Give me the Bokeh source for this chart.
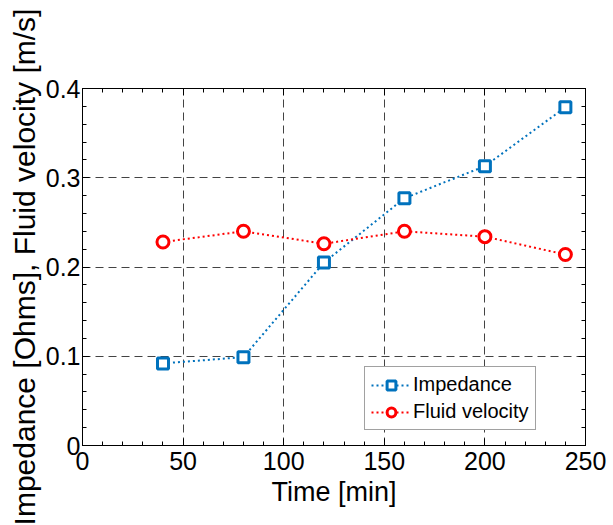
from bokeh.plotting import figure
from bokeh.models import LinearAxis, Range1d, SingleIntervalTicker, Legend
from bokeh.embed import file_html
from bokeh.resources import INLINE

time_min = [40, 80, 120, 160, 200, 240]
impedance = [0.092, 0.099, 0.205, 0.277, 0.313, 0.379]
fluid_velocity = [0.228, 0.240, 0.226, 0.240, 0.234, 0.214]

x_ticks = [0, 50, 100, 150, 200, 250]
y_ticks = [0, 0.1, 0.2, 0.3, 0.4]

FONT = "Liberation Sans"

p = figure(width=613, height=525, output_backend="svg", toolbar_location=None,
           x_range=Range1d(0, 250), y_range=Range1d(0, 0.4),
           min_border_left=82, min_border_top=88, min_border_bottom=80, min_border_right=28)
p.outline_line_color = "black"
p.outline_line_width = 1
p.background_fill_color = "white"
p.border_fill_color = "white"

for ax, ticks, interval in ((p.xaxis[0], x_ticks, 50), (p.yaxis[0], y_ticks, 0.1)):
    ax.ticker = SingleIntervalTicker(interval=interval, num_minor_ticks=5)
    ax.major_tick_in = 7
    ax.major_tick_out = 0
    ax.minor_tick_in = 4
    ax.minor_tick_out = 0
    ax.axis_line_color = "black"
    ax.major_label_text_font = FONT
    ax.major_label_text_font_size = "25px"
    ax.major_label_text_color = "black"
    ax.axis_label_text_font = FONT
    ax.axis_label_text_font_style = "normal"
    ax.axis_label_text_color = "black"

p.xaxis[0].axis_label = "Time [min]"
p.xaxis[0].axis_label_text_font_size = "27px"
p.xaxis[0].major_label_standoff = 6
p.xaxis[0].axis_label_standoff = 4
p.yaxis[0].axis_label = "Impedance [Ohms], Fluid velocity [m/s]"
p.yaxis[0].axis_label_text_font_size = "30px"
p.yaxis[0].major_label_standoff = 2
p.yaxis[0].axis_label_standoff = 2

# mirrored ticks on top/right
top = LinearAxis(ticker=SingleIntervalTicker(interval=50, num_minor_ticks=5),
                 major_label_text_font_size="0px", major_tick_in=7, major_tick_out=0,
                 minor_tick_in=4, minor_tick_out=0, axis_line_color="black")
right = LinearAxis(ticker=SingleIntervalTicker(interval=0.1, num_minor_ticks=5),
                   major_label_text_font_size="0px", major_tick_in=7, major_tick_out=0,
                   minor_tick_in=4, minor_tick_out=0, axis_line_color="black")
top.major_label_standoff = 0
right.major_label_standoff = 0
p.add_layout(top, "above")
p.add_layout(right, "right")

p.grid.grid_line_color = "#222222"
p.grid.grid_line_dash = "8 5"
p.grid.grid_line_width = 1
p.grid.grid_line_alpha = 0.85

blue = "#0072BD"
red = "#FF0000"

l1 = p.line(time_min, impedance, line_color=blue, line_width=2, line_dash="2 3")
s1 = p.scatter(time_min, impedance, marker="square", size=11, line_color=blue,
               line_width=3, fill_color="white")
l2 = p.line(time_min, fluid_velocity, line_color=red, line_width=2, line_dash="2 3")
s2 = p.scatter(time_min, fluid_velocity, marker="circle", size=12, line_color=red,
               line_width=3, fill_color="white")

legend = Legend(items=[("Impedance", [l1, s1]), ("Fluid velocity", [l2, s2])],
                location=(282, 15))
legend.label_text_font = FONT
legend.label_text_font_size = "20px"
legend.label_text_color = "black"
legend.border_line_color = "#444444"
legend.border_line_width = 1
legend.glyph_width = 40
legend.glyph_height = 22
legend.spacing = 4
legend.padding = 6
legend.margin = 0
legend.label_standoff = 2
legend.background_fill_color = "white"
legend.background_fill_alpha = 1.0
p.add_layout(legend, "center")

open("out.html", "w").write(file_html(p, INLINE))
